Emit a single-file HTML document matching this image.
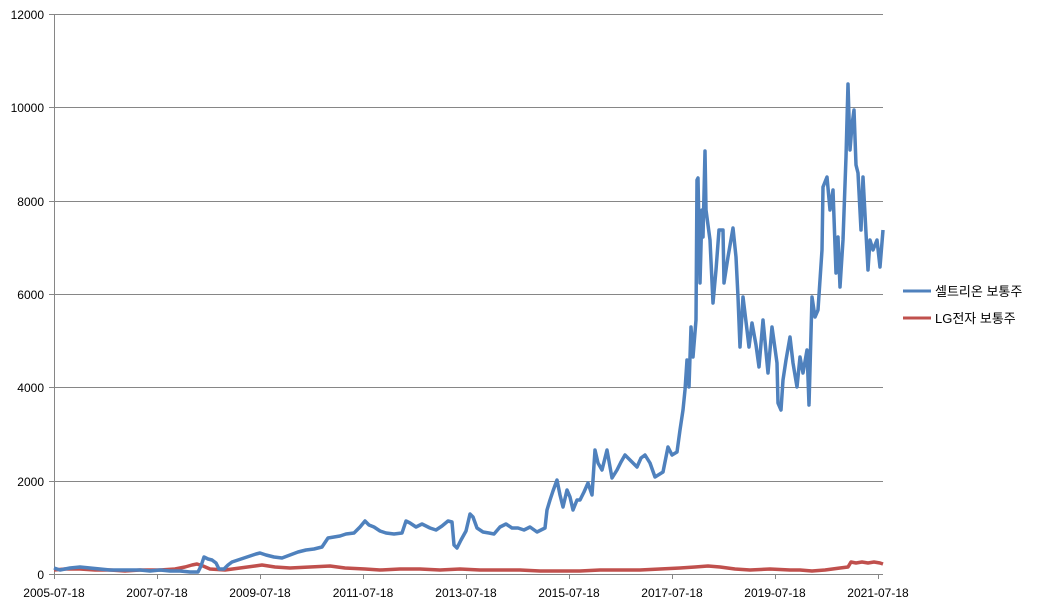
<!DOCTYPE html>
<html><head><meta charset="utf-8"><style>
body{margin:0;background:#fff}
svg{display:block;font-family:"Liberation Sans","Noto Sans CJK KR",sans-serif}
</style></head><body>
<svg width="1043" height="608" viewBox="0 0 1043 608" xmlns="http://www.w3.org/2000/svg">
<g stroke="#868686" stroke-width="1">
<line x1="54" y1="14.5" x2="883" y2="14.5"/>
<line x1="54" y1="107.5" x2="883" y2="107.5"/>
<line x1="54" y1="201.5" x2="883" y2="201.5"/>
<line x1="54" y1="294.5" x2="883" y2="294.5"/>
<line x1="54" y1="387.5" x2="883" y2="387.5"/>
<line x1="54" y1="481.5" x2="883" y2="481.5"/>
<line x1="54.5" y1="14" x2="54.5" y2="574"/>
<line x1="49" y1="574.5" x2="883" y2="574.5"/>
<line x1="49" y1="14.5" x2="54" y2="14.5"/>
<line x1="49" y1="107.5" x2="54" y2="107.5"/>
<line x1="49" y1="201.5" x2="54" y2="201.5"/>
<line x1="49" y1="294.5" x2="54" y2="294.5"/>
<line x1="49" y1="387.5" x2="54" y2="387.5"/>
<line x1="49" y1="481.5" x2="54" y2="481.5"/>
<line x1="54.5" y1="574" x2="54.5" y2="579"/>
<line x1="157.5" y1="574" x2="157.5" y2="579"/>
<line x1="260.5" y1="574" x2="260.5" y2="579"/>
<line x1="363.5" y1="574" x2="363.5" y2="579"/>
<line x1="466.5" y1="574" x2="466.5" y2="579"/>
<line x1="569.5" y1="574" x2="569.5" y2="579"/>
<line x1="672.5" y1="574" x2="672.5" y2="579"/>
<line x1="775.5" y1="574" x2="775.5" y2="579"/>
<line x1="878.5" y1="574" x2="878.5" y2="579"/>
</g>
<g font-size="12" fill="#000" text-anchor="end">
<text x="44" y="19">12000</text>
<text x="44" y="112">10000</text>
<text x="44" y="206">8000</text>
<text x="44" y="299">6000</text>
<text x="44" y="392">4000</text>
<text x="44" y="486">2000</text>
<text x="44" y="579">0</text>
</g>
<g font-size="12" fill="#000" text-anchor="middle">
<text x="54" y="597">2005-07-18</text>
<text x="157" y="597">2007-07-18</text>
<text x="260" y="597">2009-07-18</text>
<text x="363" y="597">2011-07-18</text>
<text x="466" y="597">2013-07-18</text>
<text x="569" y="597">2015-07-18</text>
<text x="672" y="597">2017-07-18</text>
<text x="775" y="597">2019-07-18</text>
<text x="878" y="597">2021-07-18</text>
</g>
<polyline fill="none" stroke="#c0504d" stroke-width="3.5" stroke-linejoin="round" points="54,570 65,569 80,569 95,570 110,570 125,571 140,570 160,570 175,569 185,567 192,565 197,564 203,566 210,569 225,570 240,568 255,566 262,565 275,567 290,568 310,567 330,566 345,568 365,569 380,570 400,569 420,569 440,570 460,569 480,570 500,570 520,570 540,571 560,571 580,571 600,570 620,570 640,570 660,569 680,568 695,567 708,566 720,567 735,569 750,570 770,569 790,570 800,570 812,571 825,570 840,568 848,567 851,562 856,563 862,562 868,563 874,562 880,563 883,564"/>
<polyline fill="none" stroke="#4f81bd" stroke-width="3.5" stroke-linejoin="round" points="54,568 60,570 70,568 80,567 90,568 100,569 110,570 120,570 130,570 140,570 150,571 160,570 170,571 180,571 190,572 198,572 201,566 204,557 208,559 212,560 216,563 219,569 224,569 228,565 232,562 238,560 244,558 250,556 256,554 260,553 266,555 274,557 282,558 290,555 298,552 306,550 314,549 322,547 328,538 334,537 340,536 346,534 354,533 360,527 365,521 369,525 374,527 380,531 386,533 394,534 402,533 406,521 410,523 416,527 422,524 430,528 436,530 442,526 448,521 452,522 454,545 457,548 461,540 466,531 470,514 473,517 477,528 483,532 489,533 494,534 500,527 506,524 512,528 518,528 524,530 530,527 537,532 545,528 547,510 550,500 553,491 557,480 560,495 563,507 567,490 570,497 573,510 577,500 580,500 584,492 588,483 592,495 595,450 598,463 602,470 607,450 612,478 617,470 621,462 625,455 632,462 637,467 641,458 645,455 650,463 655,477 663,472 668,447 672,455 677,452 680,430 683,410 685,390 687,360 689,387 691,327 693,357 696,320 697,180 698,178 700,283 702,210 703,237 705,151 706,210 708,225 710,240 713,303 716,270 719,230 723,230 724,283 728,257 733,228 736,257 738,297 740,347 743,297 747,330 749,347 752,323 756,345 759,367 763,320 768,373 772,327 777,363 778,403 781,410 783,380 786,360 790,337 793,363 797,387 800,357 803,373 807,350 809,405 812,297 815,317 818,310 822,250 823,187 827,177 830,210 833,190 836,273 838,237 840,287 843,240 846,157 848,84 850,150 852,125 854,110 856,165 858,173 861,230 863,177 866,233 868,270 870,240 873,250 877,240 880,267 883,230"/>
<line x1="903" y1="291" x2="931" y2="291" stroke="#4f81bd" stroke-width="3"/>
<line x1="903" y1="318" x2="931" y2="318" stroke="#c0504d" stroke-width="3"/>
<g font-size="13" fill="#000">
<text x="935" y="296">셀트리온 보통주</text>
<text x="935" y="323">LG전자 보통주</text>
</g>
</svg>
</body></html>
